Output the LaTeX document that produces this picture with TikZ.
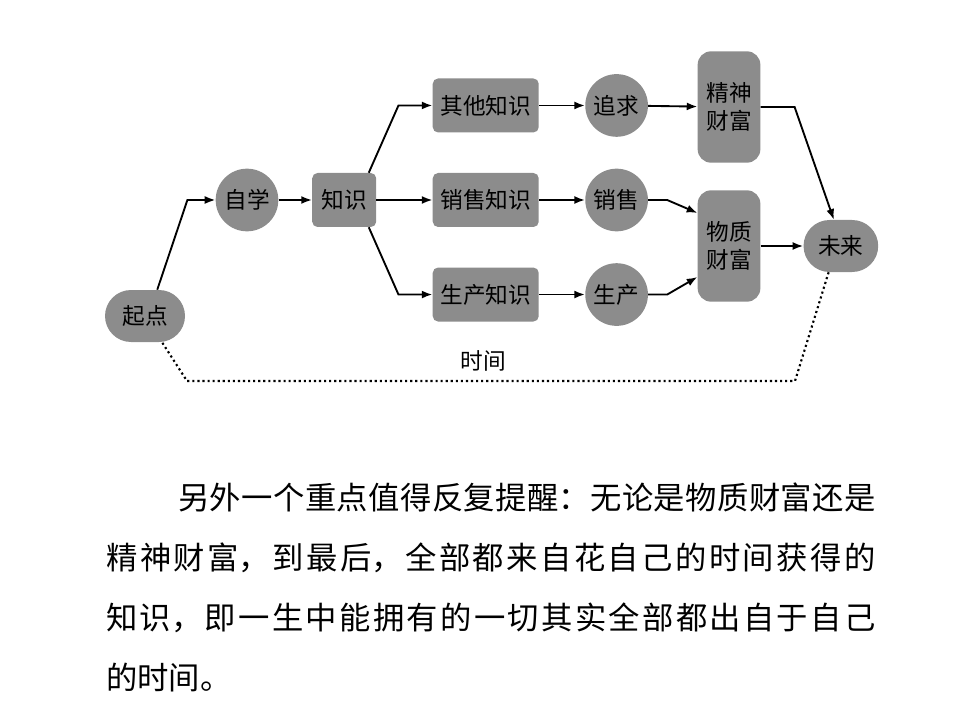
\documentclass[tikz,border=0pt]{standalone}
\usepackage{fontspec}
\newfontfamily\cjk{Noto Sans CJK SC}
\usepackage{tikz}
\usetikzlibrary{shapes.misc,arrows.meta,positioning,calc}
\XeTeXlinebreaklocale "zh"
\XeTeXlinebreakskip=0pt plus 3pt

\begin{document}
\begin{tikzpicture}[
    x=0.75pt, y=-0.75pt,
    every node/.style={font=\cjk\fontsize{17}{21}\selectfont},
    grayfill/.style={fill=black!45, inner sep=0pt, align=center},
    oval/.style={grayfill, rounded rectangle, minimum width=60pt, minimum height=39pt},
    ball/.style={grayfill, circle, minimum size=47pt},
    block/.style={grayfill, rectangle, rounded corners=4pt, minimum width=48pt, minimum height=40.5pt},
    wide/.style={block, minimum width=79.5pt},
    tank/.style={grayfill, rectangle, rounded corners=10pt, minimum width=47pt, minimum height=83.5pt},
    para/.style={font=\cjk\fontsize{23.5}{45}\selectfont, text width=577pt, align=justify, inner sep=0pt},
    arrow/.style={-{Latex[length=8pt,width=6pt]}, line width=1.4pt},
    timeline/.style={line width=1.6pt, dash pattern=on 1.6pt off 2.2pt}
]
    \useasboundingbox (0,0) rectangle (966,727);

    \node [oval] (qd) at (145,316) {起点};
    \node [ball] (zx) at (247,200) {自学};
    \node [block, right=25pt of zx] (zs) {知识};
    \node [wide, right=42pt of zs] (xszs) {销售知识};
    \node [wide, above=30pt of xszs] (qtzs) {其他知识};
    \node [wide, below=30pt of xszs] (sczs) {生产知识};
    \node [ball, right=34.5pt of qtzs] (zq) {追求};
    \node [ball, right=34.5pt of xszs] (xs) {销售};
    \node [ball, right=34.5pt of sczs] (sc) {生产};
    \node [tank] (jsh) at (729,107) {精神\\财富};
    \node [tank] (wz) at (729,246) {物质\\财富};
    \node [oval, minimum width=56pt, right=32pt of wz] (wl) {未来};

    \draw [arrow] (qd.65) -- ($(zx.west)+(-28,0)$) -- (zx.west);
    \draw [arrow] (zx) -- (zs);
    \draw [arrow] (zs.48) -- ($(qtzs.west)+(-34,0)$) -- (qtzs.west);
    \draw [arrow] (zs) -- (xszs);
    \draw [arrow] (zs.-48) -- ($(sczs.west)+(-34,0)$) -- (sczs.west);
    \draw [arrow] (qtzs) -- (zq);
    \draw [arrow] (xszs) -- (xs);
    \draw [arrow] (sczs) -- (sc);
    \draw [arrow] (zq) -- (jsh);
    \draw [arrow] (xs.east) -- ($(xs.east)+(19,0)$) -- ($(wz.west)+(0,-33)$);
    \draw [arrow] (sc.east) -- ($(sc.east)+(19,0)$) -- ($(wz.west)+(0,31)$);
    \draw [arrow] (jsh.east) -- ($(jsh.east)+(34,0)$) -- (wl.105);
    \draw [arrow] (wz) -- (wl);

    % time line back to the start
    \coordinate (tr) at (795,381);
    \coordinate (tl) at (187,381);
    \draw [timeline] (wl.245) -- (tr) -- (tl) -- (qd.-57);
    \node (sj) at (483,361) {时间};

    \node [para, anchor=base west] (txt) at (106,509) {\hspace*{54pt}另外一个重点值得反复提醒：无论是物质财富还是\linebreak 精神财富，到最后，全部都来自花自己的时间获得的\linebreak 知识，即一生中能拥有的一切其实全部都出自于自己\linebreak 的时间。};
\end{tikzpicture}
\end{document}
